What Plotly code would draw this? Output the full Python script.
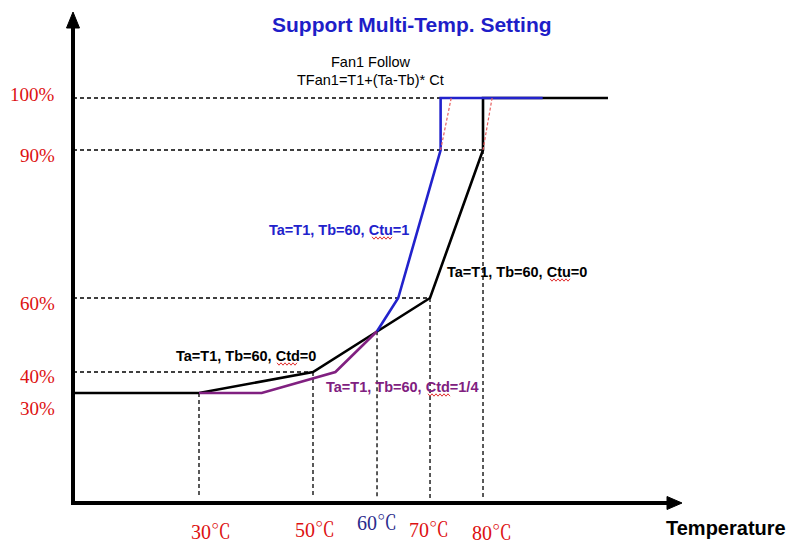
import numpy as np
import plotly.graph_objects as go

# ---------------- data ----------------
TITLE = "Support Multi-Temp. Setting"
FORMULA = ["Fan1 Follow", "TFan1=T1+(Ta-Tb)* Ct"]
X_TITLE = "Temperature"

TEMP_TICKS = [30, 50, 60, 70, 80]
TEMP_LABELS = ["30℃", "50℃", "60℃", "70℃", "80℃"]
DUTY_TICKS = [30, 40, 60, 90, 100]
DUTY_LABELS = ["30%", "40%", "60%", "90%", "100%"]

# Ctu=0 / Ctd=0 curve (temperature °C, fan duty %)
black_temp = [30, 50, 60, 70, 80, 80, 102]
black_duty = [30, 40, 51, 60, 90, 100, 100]
# Ctu=1 curve
blue_temp = [60, 64, 72, 72, 90.5]
blue_duty = [51, 60, 90, 100, 100]
# Ctd=1/4 curve
purple_temp = [30, 41, 53.5, 60]
purple_duty = [30, 30, 40, 51]
# ramp hints (red dashed)
ramp1_temp = [72, 74]
ramp1_duty = [90, 100]
ramp2_temp = [80, 81.6]
ramp2_duty = [90, 100]

# guides: horizontal (duty, end temp) / vertical (temp, top duty)
H_GUIDES = [(100, 72), (90, 80), (60, 70), (40, 50)]
V_GUIDES = [(30, 30), (50, 40), (60, 51), (70, 60), (80, 90)]

SERIES_LABELS = ["Ta=T1, Tb=60, Ctu=1", "Ta=T1, Tb=60, Ctu=0",
                 "Ta=T1, Tb=60, Ctd=0", "Ta=T1, Tb=60, Ctd=1/4"]

# ---------------- layout (schematic, non-uniform axes) ----------------
W, H = 794, 545
X_TICK_POS = [30, 50.07, 61.34, 70.67, 80.0]
Y_TICK_POS = [43.27, 47.31, 61.54, 90.0, 100.0]
X_RANGE = [-5.035, 134.75]
Y_RANGE = [14.038, 118.846]
AXIS_X0 = 7.817      # y-axis position (axis units)
AXIS_Y0 = 22.115     # x-axis position (axis units)
GUIDE_BOTTOM = 23.08

BLUE = "#2222cc"
PURPLE = "#802080"
RED = "#dd1111"
NAVY = "#2b2b8c"


def xm(t):
    t = np.asarray(t, float)
    return np.where((t < TEMP_TICKS[0]) | (t > TEMP_TICKS[-1]), t,
                    np.interp(t, TEMP_TICKS, X_TICK_POS))


def ym(d):
    d = np.asarray(d, float)
    return np.where(d > DUTY_TICKS[-1], d, np.interp(d, DUTY_TICKS, Y_TICK_POS))


def PX(x):
    return x / W


def PY(y):
    return 1 - y / H


fig = go.Figure()

# dashed guides
guide_style = dict(color="black", width=1.3, dash="4px,3px")
shapes = []
for duty, t_end in H_GUIDES:
    shapes.append(dict(type="line", xref="x", yref="y", x0=AXIS_X0, x1=float(xm(t_end)),
                       y0=float(ym(duty)), y1=float(ym(duty)), line=guide_style, layer="below"))
for t, duty in V_GUIDES:
    shapes.append(dict(type="line", xref="x", yref="y", x0=float(xm(t)), x1=float(xm(t)),
                       y0=float(ym(duty)), y1=GUIDE_BOTTOM, line=guide_style, layer="below"))


def add_line(x, y, color, width=2.6, dash=None):
    fig.add_trace(go.Scatter(x=x, y=y, mode="lines",
                             line=dict(color=color, width=width, dash=dash),
                             hoverinfo="skip", showlegend=False))


# black curve starts at the y-axis
add_line(np.concatenate([[AXIS_X0], xm(black_temp)]),
         np.concatenate([[float(ym(black_duty[0]))], ym(black_duty)]), "black")
add_line(xm(purple_temp), ym(purple_duty), PURPLE)
add_line(xm(blue_temp), ym(blue_duty), BLUE)
add_line(xm(ramp1_temp), ym(ramp1_duty), "#e86060", width=1.2, dash="3px,2px")
add_line(xm(ramp2_temp), ym(ramp2_duty), "#e86060", width=1.2, dash="3px,2px")

# axes with arrows (pixel-based decoration)
axis_line = dict(color="black", width=4)
shapes.append(dict(type="line", xref="paper", yref="paper", x0=PX(73), x1=PX(73),
                   y0=PY(505), y1=PY(26), line=axis_line))
shapes.append(dict(type="line", xref="paper", yref="paper", x0=PX(71), x1=PX(670),
                   y0=PY(503), y1=PY(503), line=axis_line))
shapes.append(dict(type="path", xref="paper", yref="paper",
                   path=f"M {PX(66.5)} {PY(28)} L {PX(79.5)} {PY(28)} L {PX(73)} {PY(12)} Z",
                   fillcolor="black", line=dict(color="black", width=1)))
shapes.append(dict(type="path", xref="paper", yref="paper",
                   path=f"M {PX(667)} {PY(496.5)} L {PX(667)} {PY(509.5)} L {PX(682)} {PY(503)} Z",
                   fillcolor="black", line=dict(color="black", width=1)))


# red spell-check squiggles under "Ctu"/"Ctd"
def squiggle(x0, x1, y):
    n = int((x1 - x0) // 2)
    pts = [f"{'M' if i == 0 else 'L'} {PX(x0 + 2 * i)} {PY(y + (1.2 if i % 2 else -1.2))}"
           for i in range(n + 1)]
    shapes.append(dict(type="path", xref="paper", yref="paper", path=" ".join(pts),
                       line=dict(color="#e03030", width=1)))


squiggle(372, 392, 238)
squiggle(550, 570, 280)
squiggle(277, 297, 364)
squiggle(428, 450, 395)

annotations = []
SERIF = "Liberation Serif, Times New Roman, Noto Serif CJK SC, Noto Sans CJK SC, serif"
SANS = "Liberation Sans, Arial, sans-serif"

# y tick labels
y_shifts = [-16, -5, -6, -5, 4]
for v, lab, ys in zip(DUTY_TICKS, DUTY_LABELS, y_shifts):
    annotations.append(dict(x=AXIS_X0, y=float(ym(v)), xref="x", yref="y", text=lab,
                            showarrow=False, xanchor="right", yanchor="middle",
                            xshift=-16, yshift=ys,
                            font=dict(family=SERIF, size=19, color=RED)))
# x tick labels
x_shifts = [12, 2, 0, -1, 9]
x_yshifts = [-29, -27, -20, -27, -30]
x_colors = [RED, RED, NAVY, RED, RED]
for t, lab, xs, ys, c in zip(TEMP_TICKS, TEMP_LABELS, x_shifts, x_yshifts, x_colors):
    annotations.append(dict(x=float(xm(t)), y=AXIS_Y0, xref="x", yref="y", text=lab,
                            showarrow=False, xanchor="center", yanchor="middle",
                            xshift=xs, yshift=ys,
                            font=dict(family=SERIF, size=20, color=c)))


# titles / texts in pixel positions
def ptext(x, y, text, size, color, bold=False, family=SANS):
    annotations.append(dict(x=PX(x), y=PY(y), xref="paper", yref="paper",
                            text=f"<b>{text}</b>" if bold else text, showarrow=False,
                            xanchor="center", yanchor="middle",
                            font=dict(family=family, size=size, color=color)))


ptext(412, 25, TITLE, 21, "#1e1ec8", bold=True)
ptext(371, 62, FORMULA[0], 14.5, "black")
ptext(370, 80, FORMULA[1], 14.5, "black")
ptext(726, 528, X_TITLE, 20, "black", bold=True)
ptext(339, 230, SERIES_LABELS[0], 14.5, BLUE, bold=True)
ptext(517, 272, SERIES_LABELS[1], 14.5, "black", bold=True)
ptext(246, 356, SERIES_LABELS[2], 14.5, "black", bold=True)
ptext(402, 387, SERIES_LABELS[3], 14.5, PURPLE, bold=True)

fig.update_layout(
    width=W, height=H,
    margin=dict(l=0, r=0, t=0, b=0),
    paper_bgcolor="white", plot_bgcolor="white",
    xaxis=dict(range=X_RANGE, visible=False, fixedrange=True),
    yaxis=dict(range=Y_RANGE, visible=False, fixedrange=True),
    shapes=shapes, annotations=annotations, showlegend=False,
)

fig.write_html("out.html", config={"displayModeBar": False},
               post_script="document.body.style.margin='0px';document.body.style.overflow='hidden';")
